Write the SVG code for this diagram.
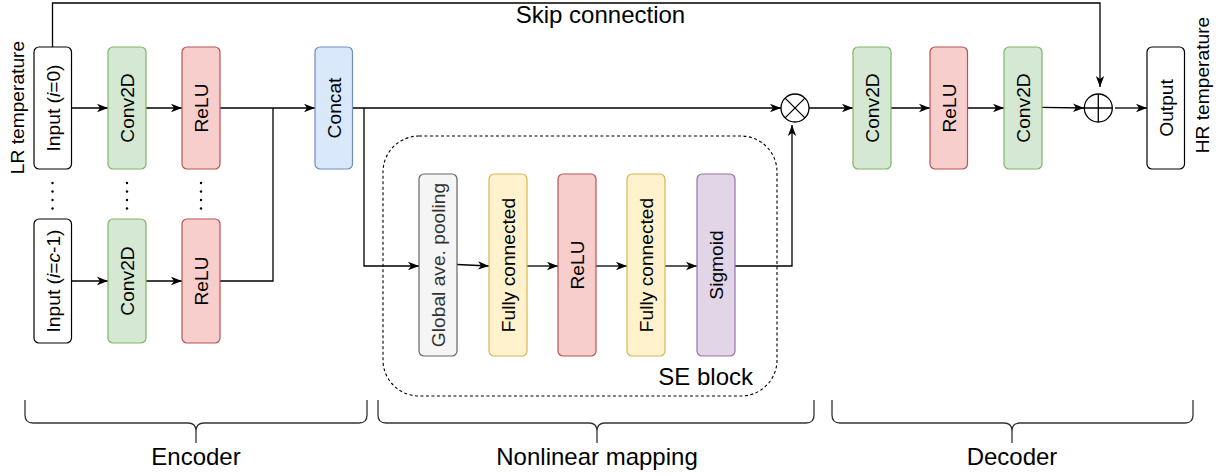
<svg xmlns="http://www.w3.org/2000/svg" width="1224" height="476" viewBox="0 0 1224 476">
<defs>
<marker id="arr" markerUnits="userSpaceOnUse" markerWidth="12" markerHeight="10" viewBox="0 0 12 10" refX="11" refY="5" orient="auto">
<path d="M0,0.8 L11,5 L0,9.2 L3,5 Z" fill="#000"/>
</marker>
<style>
text{font-family:"Liberation Sans",Arial,Helvetica,sans-serif;fill:#000}
.n{font-size:19.2px;text-anchor:middle}
.big{font-size:24px;text-anchor:middle}
.box{stroke-width:1.2}
.w{fill:#ffffff;stroke:#000}
.g{fill:#d5e8d4;stroke:#82b366}
.r{fill:#f8cecc;stroke:#b85450}
.b{fill:#dae8fc;stroke:#6c8ebf}
.y{fill:#fff2cc;stroke:#d6b656}
.p{fill:#e1d5e7;stroke:#9673a6}
.gr{fill:#f5f5f5;stroke:#666666}
.c{fill:none;stroke:#000;stroke-width:1.3}
.br{fill:none;stroke:#333;stroke-width:1.3}
.dot{fill:#000}
</style>
</defs>
<rect width="1224" height="476" fill="#fff"/>

<g id="connectors">
<path class="c" d="M71,108 H108" marker-end="url(#arr)"/>
<path class="c" d="M146,108 H182" marker-end="url(#arr)"/>
<path class="c" d="M220,108 H315" marker-end="url(#arr)"/>
<path class="c" d="M71,281 H108" marker-end="url(#arr)"/>
<path class="c" d="M146,281 H182" marker-end="url(#arr)"/>
<path class="c" d="M220,281 H273 V108"/>
<path class="c" d="M352,108 H781" marker-end="url(#arr)"/>
<path class="c" d="M364,108 V266 H419" marker-end="url(#arr)"/>
<path class="c" d="M457,264.5 L489,266" marker-end="url(#arr)"/>
<path class="c" d="M527,266 H558" marker-end="url(#arr)"/>
<path class="c" d="M596,266 H627" marker-end="url(#arr)"/>
<path class="c" d="M665,266 H697" marker-end="url(#arr)"/>
<path class="c" d="M735,266 H792 V125" marker-end="url(#arr)"/>
<path class="c" d="M809,108 H853" marker-end="url(#arr)"/>
<path class="c" d="M891,108 H930" marker-end="url(#arr)"/>
<path class="c" d="M967,108 H1004" marker-end="url(#arr)"/>
<path class="c" d="M1042,107.3 L1084,108" marker-end="url(#arr)"/>
<path class="c" d="M1115,108 H1147" marker-end="url(#arr)"/>
<path class="c" d="M52.5,47 V3 H1100 V87" marker-end="url(#arr)"/>
</g>

<g id="lr-label"><text class="n" transform="translate(24,107.5) rotate(-90)">LR temperature</text></g>
<g id="hr-label"><text class="n" transform="translate(1209,85) rotate(-90)">HR temperature</text></g>
<g id="skip-label"><text class="big" x="600.5" y="23">Skip connection</text></g>

<g id="input0"><rect class="box w" x="34" y="47" width="37.5" height="122" rx="5"/><text class="n" transform="translate(59.7,108) rotate(-90)">Input (<tspan font-style="italic">i</tspan>=0)</text></g>
<g id="conv-enc0"><rect class="box g" x="108" y="47" width="38" height="122" rx="5"/><text class="n" transform="translate(134,108) rotate(-90)">Conv2D</text></g>
<g id="relu-enc0"><rect class="box r" x="182" y="47" width="38" height="122" rx="5"/><text class="n" transform="translate(208,108) rotate(-90)">ReLU</text></g>

<g id="dots">
<circle class="dot" cx="52.5" cy="183" r="1.2"/><circle class="dot" cx="52.5" cy="191.5" r="1.2"/><circle class="dot" cx="52.5" cy="200" r="1.2"/><circle class="dot" cx="52.5" cy="208.5" r="1.2"/>
<circle class="dot" cx="127" cy="183" r="1.2"/><circle class="dot" cx="127" cy="191.5" r="1.2"/><circle class="dot" cx="127" cy="200" r="1.2"/><circle class="dot" cx="127" cy="208.5" r="1.2"/>
<circle class="dot" cx="201" cy="183" r="1.2"/><circle class="dot" cx="201" cy="191.5" r="1.2"/><circle class="dot" cx="201" cy="200" r="1.2"/><circle class="dot" cx="201" cy="208.5" r="1.2"/>
</g>

<g id="input1"><rect class="box w" x="34" y="219" width="37.5" height="124" rx="5"/><text class="n" transform="translate(59.7,281) rotate(-90)">Input (<tspan font-style="italic">i</tspan>=<tspan font-style="italic">c</tspan>-1)</text></g>
<g id="conv-enc1"><rect class="box g" x="108" y="219" width="38" height="124" rx="5"/><text class="n" transform="translate(134,281) rotate(-90)">Conv2D</text></g>
<g id="relu-enc1"><rect class="box r" x="182" y="219" width="38" height="124" rx="5"/><text class="n" transform="translate(208,281) rotate(-90)">ReLU</text></g>

<g id="concat"><rect class="box b" x="315" y="47" width="37.5" height="122" rx="5"/><text class="n" transform="translate(340.7,108) rotate(-90)">Concat</text></g>

<g id="se-block">
<rect x="383" y="136" width="394" height="260" rx="36" fill="none" stroke="#000" stroke-width="1.1" stroke-dasharray="3 2.5"/>
<text x="753" y="385" font-size="24px" text-anchor="end">SE block</text>
</g>
<g id="gap"><rect class="box gr" x="419" y="174" width="38" height="182" rx="5"/><text class="n" style="fill:#333" transform="translate(445,265) rotate(-90)">Global ave. pooling</text></g>
<g id="fc1"><rect class="box y" x="489" y="174" width="38" height="182" rx="5"/><text class="n" transform="translate(515,265) rotate(-90)">Fully connected</text></g>
<g id="relu-se"><rect class="box r" x="558" y="174" width="38" height="182" rx="5"/><text class="n" transform="translate(584,265) rotate(-90)">ReLU</text></g>
<g id="fc2"><rect class="box y" x="627" y="174" width="38" height="182" rx="5"/><text class="n" transform="translate(653,265) rotate(-90)">Fully connected</text></g>
<g id="sigmoid"><rect class="box p" x="697" y="174" width="38" height="182" rx="5"/><text class="n" transform="translate(723,265) rotate(-90)">Sigmoid</text></g>

<g id="multiply"><circle cx="795" cy="108" r="14" fill="#fff" stroke="#000" stroke-width="1.3"/><path d="M785.1,98.1 L804.9,117.9 M804.9,98.1 L785.1,117.9" stroke="#000" stroke-width="1.3"/></g>

<g id="conv-dec0"><rect class="box g" x="853" y="47" width="38" height="122" rx="5"/><text class="n" transform="translate(879,108) rotate(-90)">Conv2D</text></g>
<g id="relu-dec"><rect class="box r" x="930" y="47" width="37.5" height="122" rx="5"/><text class="n" transform="translate(955.7,108) rotate(-90)">ReLU</text></g>
<g id="conv-dec1"><rect class="box g" x="1004" y="47" width="38" height="122" rx="5"/><text class="n" transform="translate(1030,108) rotate(-90)">Conv2D</text></g>

<g id="add"><circle cx="1098.3" cy="108" r="14" fill="#fff" stroke="#000" stroke-width="1.3"/><path d="M1084.3,108 H1112.3 M1098.3,94 V122" stroke="#000" stroke-width="1.3"/></g>

<g id="output"><rect class="box w" x="1147" y="47" width="37.5" height="122" rx="5"/><text class="n" transform="translate(1172.7,108) rotate(-90)">Output</text></g>

<g id="brace-encoder">
<path class="br" d="M25,400 V415 Q25,423 33,423 H188 Q196,423 196,431 V443 M196,431 Q196,423 204,423 H359 Q367,423 367,415 V400"/>
<text class="big" x="196" y="465">Encoder</text>
</g>
<g id="brace-nonlinear">
<path class="br" d="M378,400 V415 Q378,423 386,423 H589 Q597,423 597,431 V443 M597,431 Q597,423 605,423 H806 Q814,423 814,415 V400"/>
<text class="big" x="597" y="465">Nonlinear mapping</text>
</g>
<g id="brace-decoder">
<path class="br" d="M832,400 V415 Q832,423 840,423 H1004 Q1012,423 1012,431 V443 M1012,431 Q1012,423 1020,423 H1185 Q1193,423 1193,415 V400"/>
<text class="big" x="1012" y="465">Decoder</text>
</g>
</svg>
